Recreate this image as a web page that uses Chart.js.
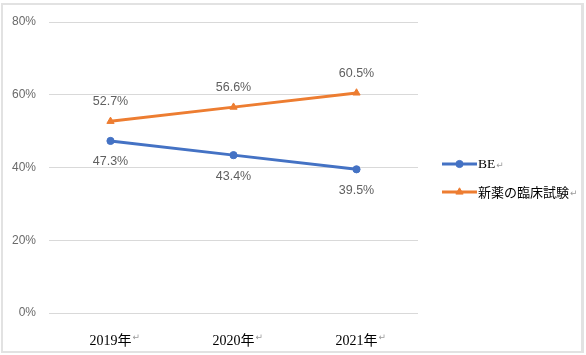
<!DOCTYPE html>
<html>
<head>
<meta charset="utf-8">
<script src="https://cdn.jsdelivr.net/npm/chart.js@4/dist/chart.umd.min.js"></script>
<style>
  html, body { margin: 0; padding: 0; background: #fff; }
  #wrap { position: relative; width: 586px; height: 355px; overflow: hidden; }
  #frame { position: absolute; left: 1px; top: 3px; width: 583px; height: 350px; box-sizing: border-box;
           border: 2px solid #e2e2e2; border-right-width: 3px; pointer-events: none; }
  canvas { position: absolute; left: 0; top: 0; }
</style>
</head>
<body>
<div id="wrap">
  <canvas id="c" width="586" height="355"></canvas>
  <div id="frame"></div>
</div>
<script>
// ---- data ----
const categories = ["2019年", "2020年", "2021年"];
const seriesNames = ["BE", "新薬の臨床試験"];
const beValues = [47.3, 43.4, 39.5];
const newDrugValues = [52.7, 56.6, 60.5];
const yTickValues = [0, 20, 40, 60, 80];

const BLUE = "#4472C4";
const ORANGE = "#ED7D31";
const MARK = "\u21B5";

// data labels drawn from the library's point elements
const valueLabels = {
  id: "valueLabels",
  afterDatasetsDraw(chart) {
    const ctx = chart.ctx;
    ctx.save();
    ctx.font = "12.5px 'Liberation Sans', Arial, sans-serif";
    ctx.fillStyle = "#606060";
    ctx.textAlign = "center";
    ctx.textBaseline = "middle";
    chart.data.datasets.forEach((ds, i) => {
      const meta = chart.getDatasetMeta(i);
      const off = ds.labelOffset;
      meta.data.forEach((pt, j) => {
        ctx.fillText(ds.data[j].toFixed(1) + "%", pt.x, pt.y + off);
      });
    });
    ctx.restore();
  }
};

// paragraph marks after x tick labels
const tickMarks = {
  id: "tickMarks",
  afterDraw(chart) {
    const sx = chart.scales.x;
    const ctx = chart.ctx;
    ctx.save();
    const f = sx.options.ticks.font;
    sx.ticks.forEach((t, i) => {
      const x = sx.getPixelForTick(i);
      ctx.font = f.size + "px " + f.family;
      const w = ctx.measureText(categories[i]).width;
      ctx.font = "9px 'DejaVu Sans', sans-serif";
      ctx.fillStyle = "#9a9a9a";
      ctx.textBaseline = "middle";
      ctx.textAlign = "left";
      ctx.fillText(MARK, x + w / 2 + 1, chart.chartArea.bottom + 25);
    });
    ctx.restore();
  }
};

// legend with line + marker samples
const lineLegend = {
  id: "lineLegend",
  afterDraw(chart) {
    const ctx = chart.ctx;
    const ca = chart.chartArea;
    const x0 = ca.right + 24;
    const x1 = x0 + 35;
    const yc = (ca.top + ca.bottom) / 2;
    const rows = [yc - 3.5, yc + 24.5];
    chart.data.datasets.forEach((ds, i) => {
      const y = rows[i];
      ctx.save();
      ctx.strokeStyle = ds.borderColor;
      ctx.lineWidth = 3;
      ctx.beginPath();
      ctx.moveTo(x0, y);
      ctx.lineTo(x1, y);
      ctx.stroke();
      ctx.fillStyle = ds.borderColor;
      ctx.lineWidth = 1;
      Chart.helpers.drawPoint(ctx, {
        pointStyle: ds.pointStyle, radius: ds.pointRadius, rotation: 0, borderWidth: 1
      }, (x0 + x1) / 2, y);
      ctx.fillStyle = "#000";
      ctx.textBaseline = "middle";
      ctx.textAlign = "left";
      ctx.font = i === 0 ? "13.5px 'Liberation Serif', 'Times New Roman', serif"
                         : "13px 'Noto Sans CJK JP', sans-serif";
      ctx.fillText(seriesNames[i], x1 + 1, y);
      const w = ctx.measureText(seriesNames[i]).width;
      ctx.font = "9px 'DejaVu Sans', sans-serif";
      ctx.fillStyle = "#9a9a9a";
      ctx.fillText(MARK, x1 + 2 + w, y + 2);
      ctx.restore();
    });
  }
};

new Chart(document.getElementById("c"), {
  type: "line",
  data: {
    labels: categories,
    datasets: [
      {
        label: seriesNames[0], data: beValues,
        borderColor: BLUE, backgroundColor: BLUE,
        borderWidth: 3, pointStyle: "circle", pointRadius: 3.6, pointBorderWidth: 1,
        pointBackgroundColor: BLUE, pointBorderColor: BLUE,
        labelOffset: 21, tension: 0
      },
      {
        label: seriesNames[1], data: newDrugValues,
        borderColor: ORANGE, backgroundColor: ORANGE,
        borderWidth: 3, pointStyle: "triangle", pointRadius: 4.2, pointBorderWidth: 1,
        pointBackgroundColor: ORANGE, pointBorderColor: ORANGE,
        labelOffset: -19.5, tension: 0
      }
    ]
  },
  options: {
    responsive: false,
    animation: false,
    devicePixelRatio: 1,
    layout: { padding: { top: 22, right: 168, bottom: 0, left: 0 } },
    plugins: { legend: { display: false }, tooltip: { enabled: false } },
    scales: {
      x: {
        offset: true,
        grid: { display: false },
        border: { display: false },
        ticks: {
          color: "#000",
          padding: 12,
          font: { size: 14, family: "'Liberation Serif', 'Times New Roman', 'Noto Sans CJK JP', serif" }
        },
        afterFit(s) { s.height = 42; }
      },
      y: {
        min: yTickValues[0],
        max: yTickValues[yTickValues.length - 1],
        afterBuildTicks(s) { s.ticks = yTickValues.map(v => ({ value: v })); },
        grid: { color: "#d9d9d9", lineWidth: 1, drawTicks: false },
        border: { display: false },
        ticks: {
          color: "#6a6a6a",
          padding: 13,
          font: { size: 12, family: "'Liberation Sans', Arial, sans-serif" },
          callback: v => v + "%"
        },
        afterFit(s) { s.width = 49; }
      }
    }
  },
  plugins: [valueLabels, tickMarks, lineLegend]
});
</script>
</body>
</html>
